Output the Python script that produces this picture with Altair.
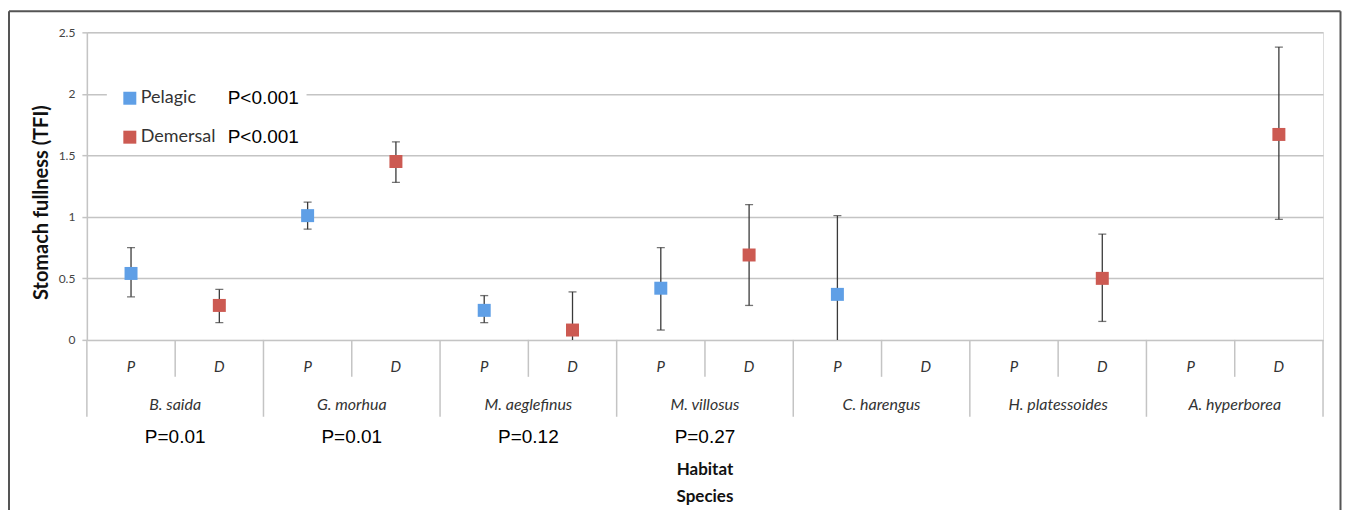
import altair as alt
import pandas as pd

# ---------------- data ----------------
species = ["B. saida", "G. morhua", "M. aeglefinus", "M. villosus",
           "C. harengus", "H. platessoides", "A. hyperborea"]
habitat_codes = ["P", "D"]
habitat_names = ["Pelagic", "Demersal"]

pelagic_mean = [0.54, 1.01, 0.24, 0.42, 0.37, None, None]
pelagic_low = [0.35, 0.90, 0.14, 0.08, -0.27, None, None]
pelagic_high = [0.75, 1.12, 0.36, 0.75, 1.01, None, None]

demersal_mean = [0.28, 1.45, 0.08, 0.69, None, 0.50, 1.67]
demersal_low = [0.14, 1.28, -0.23, 0.28, None, 0.15, 0.98]
demersal_high = [0.41, 1.61, 0.39, 1.10, None, 0.86, 2.38]

species_p = ["P=0.01", "P=0.01", "P=0.12", "P=0.27", "", "", ""]
legend_p = ["P<0.001", "P<0.001"]
y_ticks = [0, 0.5, 1, 1.5, 2, 2.5]
x_title_lines = ["Habitat", "Species"]

colors = ["#5f9fe6", "#cc5a52"]

# ---------------- tables ----------------
series = [(pelagic_mean, pelagic_low, pelagic_high),
          (demersal_mean, demersal_low, demersal_high)]
pts = []
for k, sp in enumerate(species):
    for h, (m, lo, hi) in enumerate(series):
        if m[k] is None:
            continue
        pts.append({"species": sp, "habitat": habitat_names[h],
                    "slot": 2 * k + h + 0.5, "mean": m[k],
                    "low": lo[k], "high": hi[k]})
pts_df = pd.DataFrame(pts)

cat_df = pd.DataFrame([{"slot": 2 * k + h + 0.5, "code": c}
                       for k in range(len(species))
                       for h, c in enumerate(habitat_codes)])
sp_df = pd.DataFrame({"center": [2 * k + 1 for k in range(len(species))],
                      "species": species, "p": species_p})
inner_df = pd.DataFrame({"pos": [2 * k + 1 for k in range(len(species))]})
outer_df = pd.DataFrame({"pos": [2 * k for k in range(len(species) + 1)]})
title_df = pd.DataFrame({"center": [len(species)], "t": ["\n".join(x_title_lines)]})
dummy = pd.DataFrame({"a": [0]})

W, H = 1238, 308
grid_c = "#c4c4c4"
x_scale = alt.Scale(domain=[0, 2 * len(species)], nice=False, zero=False)
y_scale = alt.Scale(domain=[0, 2.5], nice=False, zero=False)
X = lambda f: alt.X(f, scale=x_scale, axis=None)

y_axis = alt.Axis(values=y_ticks, format="~g", grid=True, gridColor=grid_c,
                  gridWidth=1.5, domainColor=grid_c, domainWidth=1.5,
                  tickColor=grid_c, tickWidth=1.5, tickSize=5,
                  labelFont="Lato", labelFontSize=12, labelColor="#444",
                  labelPadding=7, title="Stomach fullness (TFI)",
                  titleFont="Lato", titleFontSize=20, titleFontWeight="bold",
                  titleColor="#111", titleX=-35, titleY=170)

box = alt.Chart(dummy).mark_rect(color="white").encode(
    x=alt.value(20), x2=alt.value(220), y=alt.value(53), y2=alt.value(118))

inner = alt.Chart(inner_df).mark_rule(color=grid_c, strokeWidth=1.5).encode(
    x=X("pos:Q"), y=alt.value(H), y2=alt.value(H + 37))
outer = alt.Chart(outer_df).mark_rule(color=grid_c, strokeWidth=1.5).encode(
    x=X("pos:Q"), y=alt.value(H), y2=alt.value(H + 77))

err = alt.Chart(pts_df).mark_rule(color="#3a3a3a", strokeWidth=1.3, clip=True).encode(
    x=X("slot:Q"),
    y=alt.Y("low:Q", scale=y_scale, axis=y_axis),
    y2="high:Q")
caps = alt.Chart(pts_df).transform_fold(["low", "high"], as_=["end", "val"]).mark_tick(
    orient="horizontal", size=8, thickness=1.3, color="#3a3a3a", clip=True).encode(
    x=X("slot:Q"), y=alt.Y("val:Q", scale=y_scale))

points = alt.Chart(pts_df).mark_square(size=169, opacity=1, filled=True).encode(
    x=X("slot:Q"),
    y=alt.Y("mean:Q", scale=y_scale),
    color=alt.Color("habitat:N",
                    scale=alt.Scale(domain=habitat_names, range=colors),
                    legend=alt.Legend(orient="none", legendX=34, legendY=57,
                                      title=None, symbolType="square",
                                      symbolSize=169, symbolStrokeWidth=0,
                                      labelFont="Lato", labelFontSize=18,
                                      labelColor="#333", labelOffset=2,
                                      rowPadding=21, padding=0)))

codes = alt.Chart(cat_df).mark_text(font="Lato", fontStyle="italic", fontSize=15,
                                    color="#333").encode(
    x=X("slot:Q"), y=alt.value(H + 27), text="code:N")
sp_text = alt.Chart(sp_df).mark_text(font="Lato", fontStyle="italic", fontSize=16,
                                     color="#333").encode(
    x=X("center:Q"), y=alt.value(H + 65), text="species:N")
p_text = alt.Chart(sp_df).mark_text(font="Liberation Sans", fontSize=19,
                                    color="#000").encode(
    x=X("center:Q"), y=alt.value(H + 97), text="p:N")
x_title = alt.Chart(title_df).mark_text(font="Lato", fontWeight="bold", fontSize=17,
                                        color="#111", lineBreak="\n",
                                        lineHeight=27, baseline="middle").encode(
    x=X("center:Q"), y=alt.value(H + 130), text="t:N")

leg_p = [alt.Chart(pd.DataFrame({"t": [t]})).mark_text(
    font="Liberation Sans", fontSize=19, color="#000", align="left").encode(
    x=alt.value(141), y=alt.value(66 + 39 * i), text="t:N")
    for i, t in enumerate(legend_p)]

frame_c = "#555"
frame = [
    alt.Chart(dummy).mark_rule(color=frame_c, strokeWidth=2).encode(
        x=alt.value(-78), y=alt.value(-21), y2=alt.value(H + 200)),
    alt.Chart(dummy).mark_rule(color=frame_c, strokeWidth=2).encode(
        x=alt.value(1255.5), y=alt.value(-21), y2=alt.value(H + 200)),
    alt.Chart(dummy).mark_rule(color=frame_c, strokeWidth=2).encode(
        x=alt.value(-78), x2=alt.value(1255.5), y=alt.value(-21)),
]

chart = alt.layer(box, inner, outer, err, caps, points, codes, sp_text, p_text,
                  x_title, *leg_p, *frame).properties(
    width=W, height=H,
    padding={"left": 79, "top": 24, "right": 19, "bottom": 170},
    autosize=alt.AutoSizeParams(type="none"),
).configure_view(stroke=None).configure(background="white")

chart.save("out.html", embed_options={"renderer": "svg", "actions": False})
